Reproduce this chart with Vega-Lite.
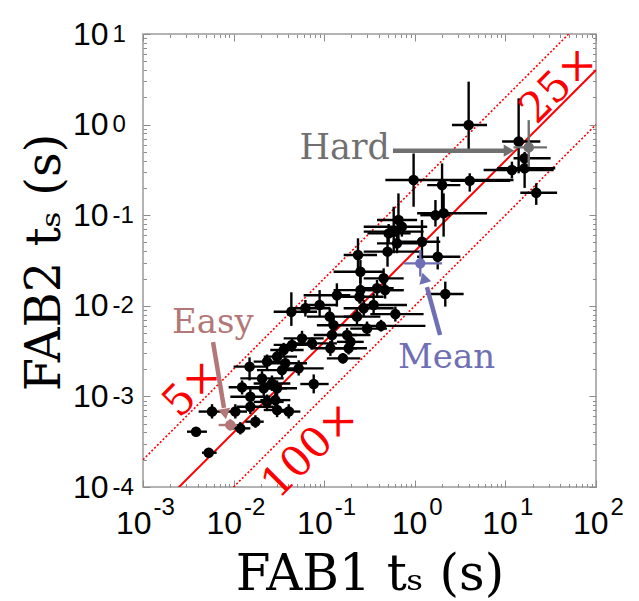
{
  "$schema": "https://vega.github.io/schema/vega-lite/v6.json",
  "width": 453,
  "height": 453,
  "autosize": {"type": "none"},
  "padding": {"left": 143, "top": 34, "right": 43, "bottom": 114},
  "background": "white",
  "config": {
    "view": {"stroke": "#9a9a9a", "strokeWidth": 1.5},
    "axis": {"grid": false, "domain": false}
  },
  "resolve": {"axis": {"x": "independent", "y": "independent"}},
  "datasets": {
    "pts": [
      {"x": 3.93, "y": 0.99, "xlo": 2.57, "xhi": 6.27, "ylo": 0.525, "yhi": 2.98, "k": "n"},
      {"x": 14.0, "y": 0.65, "xlo": 9.2, "xhi": 24.3, "ylo": 0.29, "yhi": 1.95, "k": "n"},
      {"x": 11.8, "y": 0.315, "xlo": 5.75, "xhi": 34.1, "ylo": 0.255, "yhi": 0.39, "k": "n"},
      {"x": 16.3, "y": 0.425, "xlo": 12.3, "xhi": 31.6, "ylo": 0.33, "yhi": 0.5, "k": "n"},
      {"x": 16.3, "y": 0.33, "xlo": 8.1, "xhi": 35.5, "ylo": 0.2, "yhi": 0.42, "k": "n"},
      {"x": 21.9, "y": 0.177, "xlo": 14.6, "xhi": 37.2, "ylo": 0.13, "yhi": 0.225, "k": "n"},
      {"x": 0.97, "y": 0.245, "xlo": 0.473, "xhi": 12.3, "ylo": 0.124, "yhi": 0.48, "k": "n"},
      {"x": 2.0, "y": 0.215, "xlo": 1.37, "xhi": 3.18, "ylo": 0.105, "yhi": 0.373, "k": "n"},
      {"x": 4.04, "y": 0.24, "xlo": 2.47, "xhi": 11.3, "ylo": 0.182, "yhi": 0.29, "k": "n"},
      {"x": 2.08, "y": 0.105, "xlo": 1.06, "xhi": 6.27, "ylo": 0.058, "yhi": 0.174, "k": "n"},
      {"x": 1.69, "y": 0.1, "xlo": 1.15, "xhi": 2.47, "ylo": 0.075, "yhi": 0.147, "k": "n"},
      {"x": 0.66, "y": 0.0885, "xlo": 0.383, "xhi": 1.06, "ylo": 0.045, "yhi": 0.174, "k": "n"},
      {"x": 0.72, "y": 0.0747, "xlo": 0.273, "xhi": 1.37, "ylo": 0.058, "yhi": 0.096, "k": "n"},
      {"x": 0.585, "y": 0.0658, "xlo": 0.273, "xhi": 1.25, "ylo": 0.038, "yhi": 0.124, "k": "n"},
      {"x": 0.637, "y": 0.0489, "xlo": 0.383, "xhi": 1.06, "ylo": 0.038, "yhi": 0.063, "k": "n"},
      {"x": 1.2, "y": 0.051, "xlo": 0.635, "xhi": 1.91, "ylo": 0.0326, "yhi": 0.0885, "k": "n"},
      {"x": 1.79, "y": 0.0348, "xlo": 1.06, "xhi": 3.18, "ylo": 0.0252, "yhi": 0.058, "k": "n"},
      {"x": 2.17, "y": 0.0135, "xlo": 1.49, "xhi": 3.46, "ylo": 0.0098, "yhi": 0.0185, "k": "n"},
      {"x": 0.5, "y": 0.0396, "xlo": 0.273, "xhi": 1.15, "ylo": 0.027, "yhi": 0.058, "k": "n"},
      {"x": 0.236, "y": 0.0364, "xlo": 0.164, "xhi": 0.383, "ylo": 0.0252, "yhi": 0.0556, "k": "n"},
      {"x": 0.251, "y": 0.0238, "xlo": 0.127, "xhi": 0.453, "ylo": 0.0177, "yhi": 0.032, "k": "n"},
      {"x": 0.453, "y": 0.0201, "xlo": 0.273, "xhi": 0.754, "ylo": 0.0163, "yhi": 0.0259, "k": "n"},
      {"x": 0.383, "y": 0.0156, "xlo": 0.251, "xhi": 0.585, "ylo": 0.0126, "yhi": 0.0193, "k": "n"},
      {"x": 0.251, "y": 0.0149, "xlo": 0.127, "xhi": 0.754, "ylo": 0.0106, "yhi": 0.0228, "k": "n"},
      {"x": 0.245, "y": 0.0126, "xlo": 0.138, "xhi": 0.453, "ylo": 0.0106, "yhi": 0.0141, "k": "n"},
      {"x": 0.138, "y": 0.0131, "xlo": 0.0593, "xhi": 0.194, "ylo": 0.0098, "yhi": 0.0177, "k": "n"},
      {"x": 0.089, "y": 0.0102, "xlo": 0.0593, "xhi": 0.138, "ylo": 0.0076, "yhi": 0.0149, "k": "n"},
      {"x": 0.062, "y": 0.0094, "xlo": 0.0423, "xhi": 0.117, "ylo": 0.0076, "yhi": 0.0116, "k": "n"},
      {"x": 0.0434, "y": 0.0086, "xlo": 0.0277, "xhi": 0.0834, "ylo": 0.006, "yhi": 0.0141, "k": "n"},
      {"x": 0.351, "y": 0.0102, "xlo": 0.251, "xhi": 0.82, "ylo": 0.0083, "yhi": 0.0137, "k": "n"},
      {"x": 0.273, "y": 0.0094, "xlo": 0.164, "xhi": 0.585, "ylo": 0.0076, "yhi": 0.0116, "k": "n"},
      {"x": 0.61, "y": 0.0081, "xlo": 0.323, "xhi": 1.25, "ylo": 0.0067, "yhi": 0.0098, "k": "n"},
      {"x": 0.115, "y": 0.0076, "xlo": 0.0646, "xhi": 0.23, "ylo": 0.0061, "yhi": 0.0094, "k": "n"},
      {"x": 0.23, "y": 0.0076, "xlo": 0.164, "xhi": 0.417, "ylo": 0.0063, "yhi": 0.0091, "k": "n"},
      {"x": 0.424, "y": 0.006, "xlo": 0.273, "xhi": 1.31, "ylo": 0.0052, "yhi": 0.007, "k": "n"},
      {"x": 0.297, "y": 0.0056, "xlo": 0.194, "xhi": 0.493, "ylo": 0.0048, "yhi": 0.0067, "k": "n"},
      {"x": 0.127, "y": 0.0061, "xlo": 0.083, "xhi": 0.273, "ylo": 0.0049, "yhi": 0.0076, "k": "n"},
      {"x": 0.179, "y": 0.00476, "xlo": 0.107, "xhi": 0.323, "ylo": 0.004, "yhi": 0.0057, "k": "n"},
      {"x": 0.122, "y": 0.00476, "xlo": 0.0766, "xhi": 0.23, "ylo": 0.0039, "yhi": 0.0058, "k": "n"},
      {"x": 0.195, "y": 0.004, "xlo": 0.138, "xhi": 0.273, "ylo": 0.0034, "yhi": 0.0047, "k": "n"},
      {"x": 0.117, "y": 0.0034, "xlo": 0.0703, "xhi": 0.23, "ylo": 0.0028, "yhi": 0.0041, "k": "n"},
      {"x": 0.186, "y": 0.0034, "xlo": 0.127, "xhi": 0.296, "ylo": 0.0029, "yhi": 0.004, "k": "n"},
      {"x": 0.161, "y": 0.00263, "xlo": 0.107, "xhi": 0.251, "ylo": 0.0023, "yhi": 0.003, "k": "n"},
      {"x": 0.0569, "y": 0.00437, "xlo": 0.0357, "xhi": 0.0987, "ylo": 0.0036, "yhi": 0.0053, "k": "n"},
      {"x": 0.0733, "y": 0.00385, "xlo": 0.046, "xhi": 0.138, "ylo": 0.0033, "yhi": 0.0045, "k": "n"},
      {"x": 0.0441, "y": 0.0037, "xlo": 0.0277, "xhi": 0.0833, "ylo": 0.0031, "yhi": 0.0044, "k": "n"},
      {"x": 0.0357, "y": 0.00325, "xlo": 0.0254, "xhi": 0.0593, "ylo": 0.0027, "yhi": 0.0039, "k": "n"},
      {"x": 0.0302, "y": 0.00275, "xlo": 0.0215, "xhi": 0.0501, "ylo": 0.0023, "yhi": 0.0033, "k": "n"},
      {"x": 0.0372, "y": 0.00232, "xlo": 0.0254, "xhi": 0.0646, "ylo": 0.002, "yhi": 0.0027, "k": "n"},
      {"x": 0.0523, "y": 0.00204, "xlo": 0.0357, "xhi": 0.0987, "ylo": 0.0017, "yhi": 0.0025, "k": "n"},
      {"x": 0.0342, "y": 0.00195, "xlo": 0.0181, "xhi": 0.0545, "ylo": 0.0016, "yhi": 0.0023, "k": "n"},
      {"x": 0.0234, "y": 0.00242, "xlo": 0.01665, "xhi": 0.0388, "ylo": 0.002, "yhi": 0.0029, "k": "n"},
      {"x": 0.015, "y": 0.00213, "xlo": 0.01, "xhi": 0.0234, "ylo": 0.0015, "yhi": 0.0027, "k": "n"},
      {"x": 0.0206, "y": 0.00158, "xlo": 0.01186, "xhi": 0.0357, "ylo": 0.0013, "yhi": 0.0019, "k": "n"},
      {"x": 0.0265, "y": 0.00139, "xlo": 0.01665, "xhi": 0.0423, "ylo": 0.00115, "yhi": 0.0017, "k": "n"},
      {"x": 0.0215, "y": 0.00123, "xlo": 0.01186, "xhi": 0.0388, "ylo": 0.001, "yhi": 0.0015, "k": "n"},
      {"x": 0.0302, "y": 0.00123, "xlo": 0.0197, "xhi": 0.0501, "ylo": 0.001, "yhi": 0.0015, "k": "n"},
      {"x": 0.0766, "y": 0.00137, "xlo": 0.0545, "xhi": 0.112, "ylo": 0.00108, "yhi": 0.00175, "k": "n"},
      {"x": 0.0124, "y": 0.00126, "xlo": 0.00882, "xhi": 0.0254, "ylo": 0.00105, "yhi": 0.0015, "k": "n"},
      {"x": 0.0153, "y": 0.00099, "xlo": 0.0092, "xhi": 0.0254, "ylo": 0.00082, "yhi": 0.0012, "k": "n"},
      {"x": 0.0153, "y": 0.00077, "xlo": 0.0109, "xhi": 0.0277, "ylo": 0.00064, "yhi": 0.00092, "k": "n"},
      {"x": 0.0234, "y": 0.00087, "xlo": 0.01665, "xhi": 0.0357, "ylo": 0.00072, "yhi": 0.00105, "k": "n"},
      {"x": 0.0289, "y": 0.00091, "xlo": 0.0197, "xhi": 0.0423, "ylo": 0.00076, "yhi": 0.0011, "k": "n"},
      {"x": 0.0302, "y": 0.000708, "xlo": 0.0215, "xhi": 0.046, "ylo": 0.00059, "yhi": 0.00085, "k": "n"},
      {"x": 0.0406, "y": 0.00068, "xlo": 0.0277, "xhi": 0.0545, "ylo": 0.00057, "yhi": 0.00082, "k": "n"},
      {"x": 0.01045, "y": 0.00068, "xlo": 0.00776, "xhi": 0.01406, "ylo": 0.00057, "yhi": 0.00082, "k": "n"},
      {"x": 0.00578, "y": 0.00068, "xlo": 0.00411, "xhi": 0.00845, "ylo": 0.00057, "yhi": 0.00082, "k": "n"},
      {"x": 0.01186, "y": 0.000444, "xlo": 0.0096, "xhi": 0.0153, "ylo": 0.00038, "yhi": 0.00052, "k": "n"},
      {"x": 0.0174, "y": 0.000526, "xlo": 0.01347, "xhi": 0.0215, "ylo": 0.00045, "yhi": 0.00062, "k": "n"},
      {"x": 0.00385, "y": 0.000408, "xlo": 0.00306, "xhi": 0.00508, "ylo": 0.00036, "yhi": 0.00046, "k": "n"},
      {"x": 0.00531, "y": 0.000239, "xlo": 0.00448, "xhi": 0.0065, "ylo": 0.00021, "yhi": 0.00027, "k": "n"},
      {"x": 0.515, "y": 0.063, "xlo": 0.3, "xhi": 0.9, "ylo": 0.05, "yhi": 0.08, "k": "n"},
      {"x": 0.47, "y": 0.0149, "xlo": 0.3, "xhi": 0.75, "ylo": 0.012, "yhi": 0.019, "k": "n"},
      {"x": 18.1, "y": 0.56, "xlo": 12.3, "xhi": 28.8, "ylo": 0.343, "yhi": 1.12, "k": "hard"},
      {"x": 0.0092, "y": 0.000483, "xlo": 0.00684, "xhi": 0.0109, "ylo": 0.00042, "yhi": 0.00056, "k": "easy"},
      {"x": 1.15, "y": 0.0294, "xlo": 0.754, "xhi": 2.0, "ylo": 0.021, "yhi": 0.0413, "k": "mean"}
    ],
    "ref": [
      {"x": 0.001, "y": 0.0002, "f": "5"},
      {"x": 100, "y": 20, "f": "5"},
      {"x": 0.001, "y": 0.00004, "f": "25"},
      {"x": 100, "y": 4, "f": "25"},
      {"x": 0.001, "y": 0.00001, "f": "100"},
      {"x": 100, "y": 1, "f": "100"}
    ],
    "arrows": [
      {"x": 0.574, "y": 0.515, "x2": 9.9, "y2": 0.515, "k": "hard"},
      {"x": 0.00593, "y": 0.00398, "x2": 0.00783, "y2": 0.000745, "k": "easy"},
      {"x": 1.9, "y": 0.00476, "x2": 1.36, "y2": 0.0161, "k": "mean"}
    ],
    "heads": [
      {"x": 10.96, "y": 0.515, "k": "hard"},
      {"x": 0.00804, "y": 0.00064, "k": "easy"},
      {"x": 1.26, "y": 0.0203, "k": "mean"}
    ],
    "notes": [
      {"x": 0.532, "y": 0.417, "t": "Hard", "k": "hard"},
      {"x": 0.00209, "y": 0.00501, "t": "Easy", "k": "easy"},
      {"x": 0.653, "y": 0.00206, "t": "Mean", "k": "mean"}
    ],
    "redlab": [
      {"x": 0.0035, "y": 0.00123, "t": "5×"},
      {"x": 38.4, "y": 2.74, "t": "25×"},
      {"x": 0.0697, "y": 0.000256, "t": "100×"}
    ]
  },
  "layer": [
    {
      "data": {"name": "ref"},
      "transform": [{"filter": "datum.f == '5'"}],
      "mark": {"type": "line", "clip": true, "color": "#ff0000", "strokeWidth": 1.6, "strokeDash": [2, 2]},
      "encoding": {
        "x": {"field": "x", "type": "quantitative", "scale": {"type": "log", "domain": [0.001, 100], "nice": false},
          "axis": {"orient": "bottom", "title": null, "labels": false, "ticks": true, "domain": false,
            "values": [0.001,0.002,0.003,0.004,0.005,0.006,0.007,0.008,0.009,0.01,0.02,0.03,0.04,0.05,0.06,0.07,0.08,0.09,0.1,0.2,0.3,0.4,0.5,0.6,0.7,0.8,0.9,1,2,3,4,5,6,7,8,9,10,20,30,40,50,60,70,80,90,100],
            "tickColor": "#8c8c8c", "tickWidth": 1,
            "tickSize": {"condition": {"test": "abs(log(datum.value)/LN10 - round(log(datum.value)/LN10)) < 0.01", "value": -7}, "value": -3.5}}},
        "y": {"field": "y", "type": "quantitative", "scale": {"type": "log", "domain": [0.0001, 10], "nice": false},
          "axis": {"orient": "left", "title": null, "labels": false, "ticks": true, "domain": false,
            "values": [0.0001,0.0002,0.0003,0.0004,0.0005,0.0006,0.0007,0.0008,0.0009,0.001,0.002,0.003,0.004,0.005,0.006,0.007,0.008,0.009,0.01,0.02,0.03,0.04,0.05,0.06,0.07,0.08,0.09,0.1,0.2,0.3,0.4,0.5,0.6,0.7,0.8,0.9,1,2,3,4,5,6,7,8,9,10],
            "tickColor": "#8c8c8c", "tickWidth": 1,
            "tickSize": {"condition": {"test": "abs(log(datum.value)/LN10 - round(log(datum.value)/LN10)) < 0.01", "value": -7}, "value": -3.5}}}
      }
    },
    {
      "data": {"name": "ref"},
      "transform": [{"filter": "datum.f == '25'"}],
      "mark": {"type": "line", "clip": true, "color": "#ff0000", "strokeWidth": 2},
      "encoding": {
        "x": {"field": "x", "type": "quantitative", "scale": {"type": "log", "domain": [0.001, 100], "nice": false},
          "axis": {"orient": "top", "title": null, "labels": false, "ticks": true, "domain": false,
            "values": [0.001,0.002,0.003,0.004,0.005,0.006,0.007,0.008,0.009,0.01,0.02,0.03,0.04,0.05,0.06,0.07,0.08,0.09,0.1,0.2,0.3,0.4,0.5,0.6,0.7,0.8,0.9,1,2,3,4,5,6,7,8,9,10,20,30,40,50,60,70,80,90,100],
            "tickColor": "#8c8c8c", "tickWidth": 1,
            "tickSize": {"condition": {"test": "abs(log(datum.value)/LN10 - round(log(datum.value)/LN10)) < 0.01", "value": -7}, "value": -3.5}}},
        "y": {"field": "y", "type": "quantitative", "scale": {"type": "log", "domain": [0.0001, 10], "nice": false},
          "axis": {"orient": "right", "title": null, "labels": false, "ticks": true, "domain": false,
            "values": [0.0001,0.0002,0.0003,0.0004,0.0005,0.0006,0.0007,0.0008,0.0009,0.001,0.002,0.003,0.004,0.005,0.006,0.007,0.008,0.009,0.01,0.02,0.03,0.04,0.05,0.06,0.07,0.08,0.09,0.1,0.2,0.3,0.4,0.5,0.6,0.7,0.8,0.9,1,2,3,4,5,6,7,8,9,10],
            "tickColor": "#8c8c8c", "tickWidth": 1,
            "tickSize": {"condition": {"test": "abs(log(datum.value)/LN10 - round(log(datum.value)/LN10)) < 0.01", "value": -7}, "value": -3.5}}}
      }
    },
    {
      "data": {"name": "ref"},
      "transform": [{"filter": "datum.f == '100'"}],
      "mark": {"type": "line", "clip": true, "color": "#ff0000", "strokeWidth": 1.6, "strokeDash": [2, 2]},
      "encoding": {
        "x": {"field": "x", "type": "quantitative", "scale": {"type": "log", "domain": [0.001, 100], "nice": false},
          "axis": {"orient": "bottom", "ticks": false, "domain": false, "values": [0.001, 0.01, 0.1, 1, 10, 100],
            "labelExpr": "'10'", "labelFont": "Liberation Sans", "labelFontSize": 32, "labelColor": "#000000",
            "labelAlign": "right", "labelBaseline": "top", "labelPadding": 21, "labelOverlap": false, "labelBound": false,
            "labelOffset": {"condition": {"test": "datum.value < 1", "value": 8}, "value": 12},
            "title": "FAB1 tₛ  (s)", "titleFont": "DejaVu Serif", "titleFontSize": 50, "titleFontWeight": "normal",
            "titleColor": "#000000", "titleBaseline": "alphabetic", "titleAlign": "center", "titleX": 226.5, "titleY": 102}},
        "y": {"field": "y", "type": "quantitative", "scale": {"type": "log", "domain": [0.0001, 10], "nice": false},
          "axis": {"orient": "left", "ticks": false, "domain": false, "values": [0.0001, 0.001, 0.01, 0.1, 1, 10],
            "labelExpr": "'10'", "labelFont": "Liberation Sans", "labelFontSize": 32, "labelColor": "#000000",
            "labelAlign": "right", "labelBaseline": "middle", "labelPadding": 35, "labelDy": 3, "labelOverlap": false, "labelBound": false,
            "title": "FAB2 tₛ  (s)", "titleFont": "DejaVu Serif", "titleFontSize": 48, "titleFontWeight": "normal",
            "titleColor": "#000000", "titleBaseline": "alphabetic", "titleAlign": "center", "titleAngle": 270, "titleX": -84, "titleY": 228}}
      }
    },
    {
      "data": {"name": "pts"},
      "transform": [{"filter": "datum.k == 'n'"}],
      "mark": {"type": "rule", "color": "#000000", "strokeWidth": 2.4},
      "encoding": {
        "x": {"field": "xlo", "type": "quantitative", "scale": {"type": "log", "domain": [0.001, 100], "nice": false},
          "axis": {"orient": "bottom", "ticks": false, "domain": false, "values": [0.001, 0.01, 0.1, 1, 10, 100], "title": null,
            "labelExpr": "'' + round(log(datum.value)/LN10)", "labelFont": "Liberation Sans", "labelFontSize": 24, "labelColor": "#000000",
            "labelAlign": "left", "labelBaseline": "top", "labelPadding": 8, "labelOverlap": false, "labelBound": false,
            "labelOffset": {"condition": {"test": "datum.value < 1", "value": 10}, "value": 14}}},
        "x2": {"field": "xhi"},
        "y": {"field": "y", "type": "quantitative", "scale": {"type": "log", "domain": [0.0001, 10], "nice": false},
          "axis": {"orient": "left", "ticks": false, "domain": false, "values": [0.0001, 0.001, 0.01, 0.1, 1, 10], "title": null,
            "labelExpr": "'' + round(log(datum.value)/LN10)", "labelFont": "Liberation Sans", "labelFontSize": 24, "labelColor": "#000000",
            "labelAlign": "left", "labelBaseline": "middle", "labelPadding": 31, "labelDy": -9, "labelOverlap": false, "labelBound": false}}
      }
    },
    {
      "data": {"name": "pts"},
      "transform": [{"filter": "datum.k == 'n'"}],
      "mark": {"type": "rule", "color": "#000000", "strokeWidth": 2.4},
      "encoding": {
        "x": {"field": "x", "type": "quantitative", "scale": {"type": "log", "domain": [0.001, 100], "nice": false}, "axis": null},
        "y": {"field": "ylo", "type": "quantitative", "scale": {"type": "log", "domain": [0.0001, 10], "nice": false}, "axis": null},
        "y2": {"field": "yhi"}
      }
    },
    {
      "data": {"name": "pts"},
      "transform": [{"filter": "datum.k == 'n'"}],
      "mark": {"type": "circle", "color": "#000000", "size": 110, "opacity": 1},
      "encoding": {
        "x": {"field": "x", "type": "quantitative", "scale": {"type": "log", "domain": [0.001, 100], "nice": false}, "axis": null},
        "y": {"field": "y", "type": "quantitative", "scale": {"type": "log", "domain": [0.0001, 10], "nice": false}, "axis": null}
      }
    },
    {
      "data": {"name": "pts"},
      "transform": [{"filter": "datum.k != 'n'"}],
      "mark": {"type": "rule", "strokeWidth": 2.4},
      "encoding": {
        "x": {"field": "xlo", "type": "quantitative", "scale": {"type": "log", "domain": [0.001, 100], "nice": false}, "axis": null},
        "x2": {"field": "xhi"},
        "y": {"field": "y", "type": "quantitative", "scale": {"type": "log", "domain": [0.0001, 10], "nice": false}, "axis": null},
        "color": {"field": "k", "type": "nominal", "scale": {"domain": ["hard", "easy", "mean"], "range": ["#707070", "#b37777", "#6f6fb6"]}, "legend": null}
      }
    },
    {
      "data": {"name": "pts"},
      "transform": [{"filter": "datum.k != 'n'"}],
      "mark": {"type": "rule", "strokeWidth": 2.4},
      "encoding": {
        "x": {"field": "x", "type": "quantitative", "scale": {"type": "log", "domain": [0.001, 100], "nice": false}, "axis": null},
        "y": {"field": "ylo", "type": "quantitative", "scale": {"type": "log", "domain": [0.0001, 10], "nice": false}, "axis": null},
        "y2": {"field": "yhi"},
        "color": {"field": "k", "type": "nominal", "legend": null}
      }
    },
    {
      "data": {"name": "pts"},
      "transform": [{"filter": "datum.k != 'n'"}],
      "mark": {"type": "circle", "size": 110, "opacity": 1},
      "encoding": {
        "x": {"field": "x", "type": "quantitative", "scale": {"type": "log", "domain": [0.001, 100], "nice": false}, "axis": null},
        "y": {"field": "y", "type": "quantitative", "scale": {"type": "log", "domain": [0.0001, 10], "nice": false}, "axis": null},
        "color": {"field": "k", "type": "nominal", "legend": null}
      }
    },
    {
      "data": {"name": "arrows"},
      "mark": {"type": "rule", "strokeWidth": 4.5},
      "encoding": {
        "x": {"field": "x", "type": "quantitative", "scale": {"type": "log", "domain": [0.001, 100], "nice": false}, "axis": null},
        "y": {"field": "y", "type": "quantitative", "scale": {"type": "log", "domain": [0.0001, 10], "nice": false}, "axis": null},
        "x2": {"field": "x2"},
        "y2": {"field": "y2"},
        "color": {"field": "k", "type": "nominal", "legend": null}
      }
    },
    {
      "data": {"name": "heads"},
      "transform": [{"filter": "datum.k == 'hard'"}],
      "mark": {"type": "point", "shape": "triangle-up", "angle": 90, "filled": true, "size": 150, "opacity": 1},
      "encoding": {
        "x": {"field": "x", "type": "quantitative", "scale": {"type": "log", "domain": [0.001, 100], "nice": false}, "axis": null},
        "y": {"field": "y", "type": "quantitative", "scale": {"type": "log", "domain": [0.0001, 10], "nice": false}, "axis": null},
        "color": {"field": "k", "type": "nominal", "legend": null}
      }
    },
    {
      "data": {"name": "heads"},
      "transform": [{"filter": "datum.k == 'easy'"}],
      "mark": {"type": "point", "shape": "triangle-up", "angle": 170, "filled": true, "size": 150, "opacity": 1},
      "encoding": {
        "x": {"field": "x", "type": "quantitative", "scale": {"type": "log", "domain": [0.001, 100], "nice": false}, "axis": null},
        "y": {"field": "y", "type": "quantitative", "scale": {"type": "log", "domain": [0.0001, 10], "nice": false}, "axis": null},
        "color": {"field": "k", "type": "nominal", "legend": null}
      }
    },
    {
      "data": {"name": "heads"},
      "transform": [{"filter": "datum.k == 'mean'"}],
      "mark": {"type": "point", "shape": "triangle-up", "angle": 344, "filled": true, "size": 150, "opacity": 1},
      "encoding": {
        "x": {"field": "x", "type": "quantitative", "scale": {"type": "log", "domain": [0.001, 100], "nice": false}, "axis": null},
        "y": {"field": "y", "type": "quantitative", "scale": {"type": "log", "domain": [0.0001, 10], "nice": false}, "axis": null},
        "color": {"field": "k", "type": "nominal", "legend": null}
      }
    },
    {
      "data": {"name": "notes"},
      "transform": [{"filter": "datum.k == 'hard'"}],
      "mark": {"type": "text", "align": "right", "baseline": "alphabetic", "font": "DejaVu Serif", "fontSize": 35},
      "encoding": {
        "x": {"field": "x", "type": "quantitative", "scale": {"type": "log", "domain": [0.001, 100], "nice": false}, "axis": null},
        "y": {"field": "y", "type": "quantitative", "scale": {"type": "log", "domain": [0.0001, 10], "nice": false}, "axis": null},
        "text": {"field": "t"},
        "color": {"field": "k", "type": "nominal", "legend": null}
      }
    },
    {
      "data": {"name": "notes"},
      "transform": [{"filter": "datum.k != 'hard'"}],
      "mark": {"type": "text", "align": "left", "baseline": "alphabetic", "font": "DejaVu Serif", "fontSize": 34},
      "encoding": {
        "x": {"field": "x", "type": "quantitative", "scale": {"type": "log", "domain": [0.001, 100], "nice": false}, "axis": null},
        "y": {"field": "y", "type": "quantitative", "scale": {"type": "log", "domain": [0.0001, 10], "nice": false}, "axis": null},
        "text": {"field": "t"},
        "color": {"field": "k", "type": "nominal", "legend": null}
      }
    },
    {
      "data": {"name": "redlab"},
      "mark": {"type": "text", "align": "center", "baseline": "middle", "font": "DejaVu Serif", "fontSize": 42, "angle": 315, "color": "#ff0000"},
      "encoding": {
        "x": {"field": "x", "type": "quantitative", "scale": {"type": "log", "domain": [0.001, 100], "nice": false}, "axis": null},
        "y": {"field": "y", "type": "quantitative", "scale": {"type": "log", "domain": [0.0001, 10], "nice": false}, "axis": null},
        "text": {"field": "t"}
      }
    }
  ]
}
